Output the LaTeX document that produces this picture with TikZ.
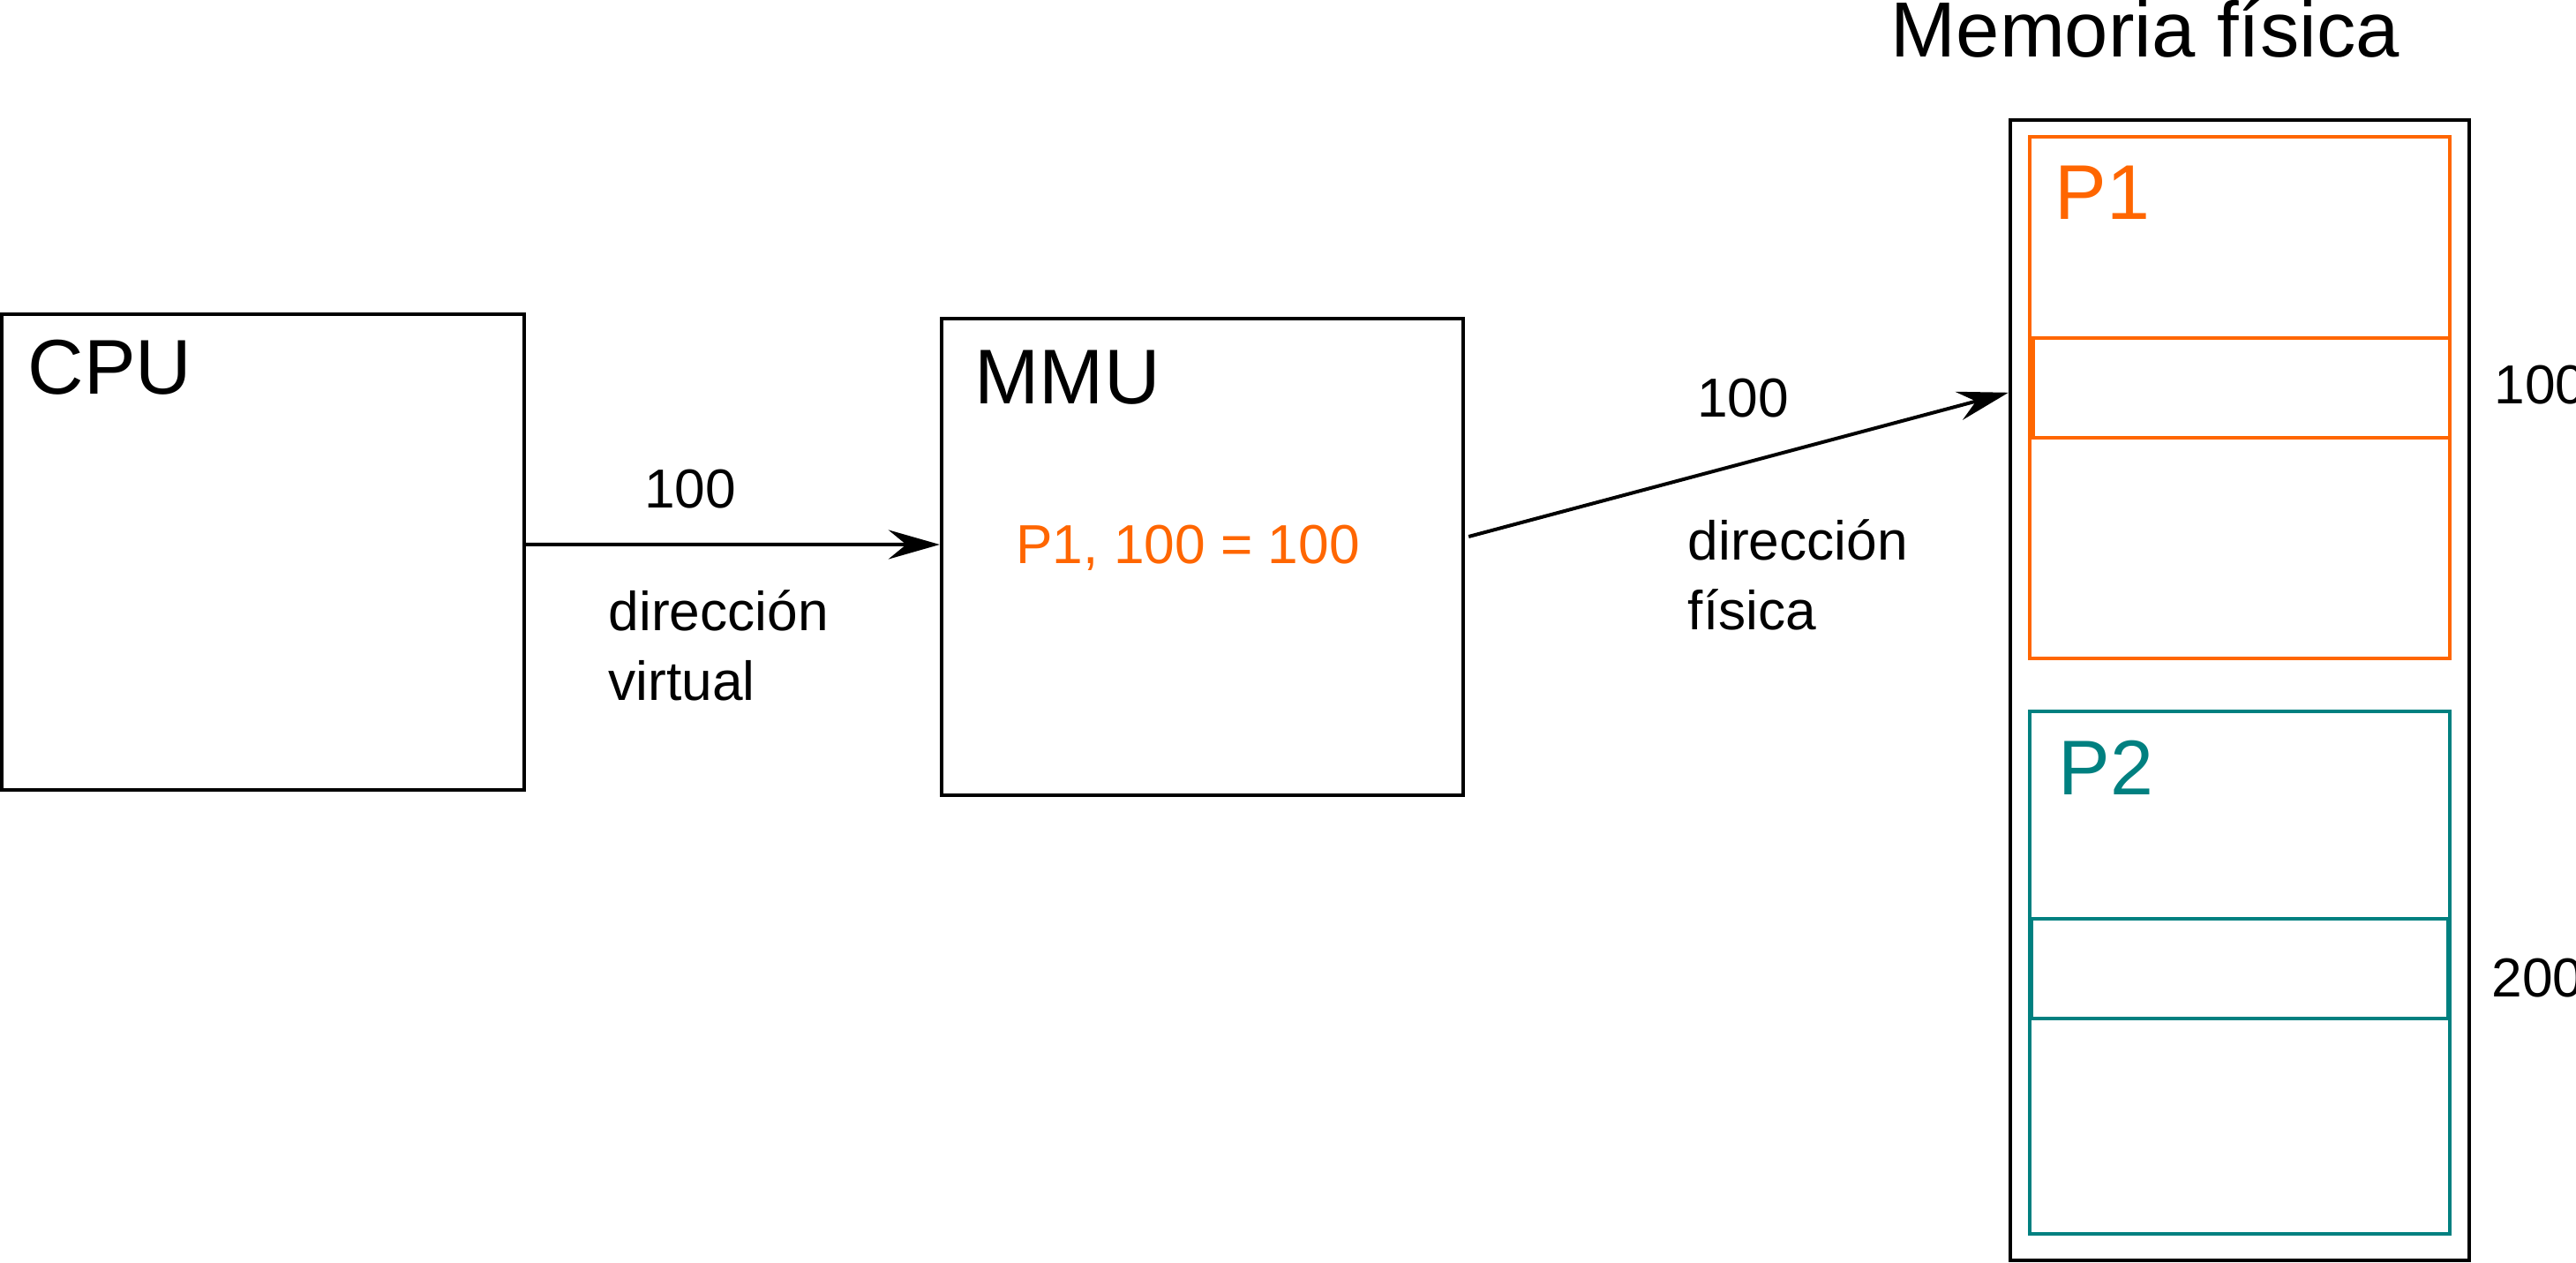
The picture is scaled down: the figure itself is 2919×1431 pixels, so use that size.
\documentclass[tikz,border=0pt]{standalone}
\usepackage{fontspec}
\setmainfont{Liberation Sans}
\usetikzlibrary{arrows.meta}
\definecolor{porange}{HTML}{FF6600}
\definecolor{pteal}{HTML}{008080}
\tikzset{
  box/.style={draw=black, line width=0.04cm, rectangle, inner sep=0pt},
  obox/.style={draw=porange, line width=0.035cm, rectangle, inner sep=0pt},
  tbox/.style={draw=pteal, line width=0.035cm, rectangle, inner sep=0pt},
  bigtext/.style={font=\fontsize{25}{30}\selectfont, inner sep=0pt, anchor=base west},
  smalltext/.style={font=\fontsize{17.7}{22.2}\selectfont, inner sep=0pt, anchor=base west, align=left},
  conn/.style={line width=0.04cm, -{Stealth[length=0.58cm,width=0.33cm,inset=0.2cm]}}
}
\begin{document}
\begin{tikzpicture}[x=0.01cm,y=-0.01cm]
\useasboundingbox (0,0) rectangle (2919,1431);
% main boxes
\node[box, minimum width=5.92cm, minimum height=5.39cm] (cpu) at (298,625.5) {};
\node[box, minimum width=5.91cm, minimum height=5.40cm] (mmu) at (1362.5,631) {};
\node[box, minimum width=5.20cm, minimum height=12.92cm] (mem) at (2538,782) {};
% process areas
\node[obox, minimum width=4.76cm, minimum height=5.91cm] (p1) at (2538,450.5) {};
\node[obox, minimum width=4.72cm, minimum height=1.13cm] (p1slot) at (2540,439.5) {};
\node[tbox, minimum width=4.76cm, minimum height=5.92cm] (p2) at (2538,1102) {};
\node[tbox, line width=0.045cm, minimum width=4.72cm, minimum height=1.13cm] (p2slot) at (2538,1097.5) {};
% labels
\node[bigtext] (cpulbl) at (31,447) {CPU};
\node[bigtext] (mmulbl) at (1104,458) {MMU};
\node[font=\fontsize{25.2}{30}\selectfont, inner sep=0pt, anchor=base] (title) at (2431,65) {Memoria física};
\node[bigtext, text=porange] (p1lbl) at (2328,249) {P1};
\node[bigtext, text=pteal] (p2lbl) at (2332,900) {P2};
\node[smalltext, anchor=base] (va) at (782,576) {100};
\node[smalltext] (vlbl) at (689,793) {dirección\\virtual};
\node[smalltext, text=porange, anchor=base] (xlat) at (1346,639) {P1, 100 = 100};
\node[smalltext, anchor=base] (pa) at (1975,473) {100};
\node[smalltext] (plbl) at (1912,713) {dirección\\física};
\node[smalltext] (a100) at (2826,458) {100};
\node[smalltext] (a200) at (2823,1129) {200};
% connectors
\draw[conn] ([yshift=0.085cm]cpu.east) -- ([yshift=0.14cm]mmu.west);
\draw[conn] ([xshift=0.04cm,yshift=0.23cm]mmu.east) -- ([yshift=3.37cm]mem.west);
\end{tikzpicture}
\end{document}
